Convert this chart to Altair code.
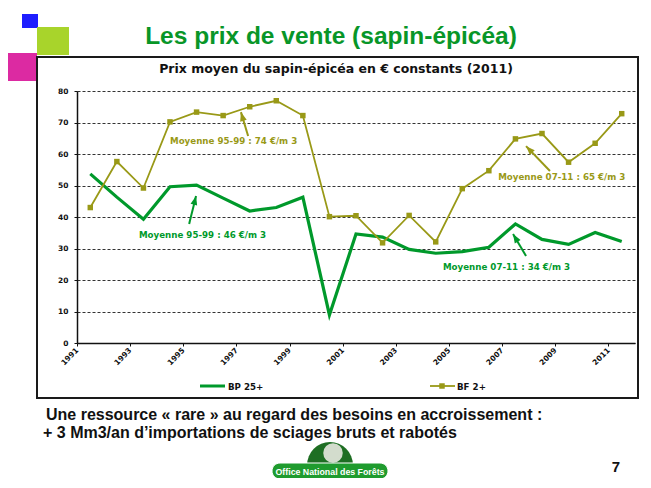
import altair as alt
import pandas as pd

# ---------------- data ----------------
years = list(range(1991, 2012))
bp25 = [53.7, 46.3, 39.3, 49.6, 50.1, 46.0, 41.9, 43.0, 46.3, 8.9, 34.6,
        33.6, 29.7, 28.5, 29.0, 30.4, 37.8, 32.9, 31.3, 35.1, 32.2]
bf2 = [43.0, 57.6, 49.2, 70.2, 73.3, 72.2, 75.0, 76.9, 72.2, 40.1, 40.4,
       31.8, 40.5, 32.1, 49.0, 54.7, 64.8, 66.5, 57.4, 63.4, 72.8]
series_names = ["BP 25+", "BF 2+"]
x_tick_years = list(range(1991, 2012, 2))
y_ticks = [0, 10, 20, 30, 40, 50, 60, 70, 80]

ann_text = ["Moyenne 95-99 : 74 €/m 3", "Moyenne 95-99 : 46 €/m 3",
            "Moyenne 07-11 : 65 €/m 3", "Moyenne 07-11 : 34 €/m 3"]
ann_series = ["BF 2+", "BP 25+", "BF 2+", "BP 25+"]
ann_x = [1994.5, 1993.33, 2006.85, 2004.77]
ann_y = [64.1, 34.2, 52.7, 24.1]
arr_x1 = [1997.44, 1995.22, 2008.8, 2007.9]
arr_y1 = [65.7, 37.8, 54.6, 27.6]
arr_x2 = [1997.17, 1995.48, 2007.9, 2007.41]
arr_y2 = [73.3, 46.7, 62.5, 34.6]
arr_angle = [344, 14, 316, 329]

GREEN = "#00992B"
OLIVE = "#999917"
TITLE_GREEN = "#089628"
DV = "DejaVu Sans"
LS = "Liberation Sans, Arial, sans-serif"

df = pd.DataFrame({"year": years, "bp": bp25, "bf": bf2})
ann = pd.DataFrame({"text": ann_text, "series": ann_series, "x": ann_x, "y": ann_y})
arr = pd.DataFrame({"series": ann_series, "x1": arr_x1, "y1": arr_y1,
                    "x2": arr_x2, "y2": arr_y2, "angle": arr_angle})

# ---------------- scales / axes ----------------
OX, OY = 77, 91  # page position of plot origin


def px(v):
    return v - OX


def py(v):
    return v - OY


xscale = alt.Scale(domain=[1991, 2012], nice=False, zero=False)
yscale = alt.Scale(domain=[0, 80], nice=False, zero=True)
cscale = alt.Scale(domain=series_names, range=[GREEN, OLIVE])

xaxis = alt.Axis(values=x_tick_years, format="d", title=None, labelAngle=-45,
                 labelAlign="right", labelBaseline="middle", labelPadding=3,
                 labelFont=DV, labelFontWeight="bold", labelFontSize=7.5,
                 labelColor="#111", tickSize=3, tickColor="#111",
                 domainColor="#111", domainWidth=1.5, grid=False)
yaxis = alt.Axis(values=y_ticks, title=None, labelFont=DV, labelFontWeight="bold",
                 labelFontSize=7.5, labelColor="#111", labelPadding=6,
                 tickSize=3, tickColor="#111", domainColor="#111", domainWidth=1.5,
                 grid=True, gridColor="#333", gridDash=[3, 2], gridWidth=1)

base = alt.Chart(df).transform_calculate(xpos="datum.year + 0.5")

bp_line = base.mark_line(color=GREEN, strokeWidth=3.2).encode(
    x=alt.X("xpos:Q", scale=xscale, axis=xaxis),
    y=alt.Y("bp:Q", scale=yscale, axis=yaxis),
)
bf_line = base.mark_line(color=OLIVE, strokeWidth=1.8).encode(
    x=alt.X("xpos:Q", scale=xscale, axis=xaxis),
    y=alt.Y("bf:Q", scale=yscale, axis=yaxis),
)
bf_pts = base.mark_point(shape="square", filled=True, size=30, color=OLIVE, opacity=1).encode(
    x=alt.X("xpos:Q", scale=xscale, axis=xaxis),
    y=alt.Y("bf:Q", scale=yscale, axis=yaxis),
)

ann_layer = alt.Chart(ann).mark_text(font=DV, fontWeight="bold", fontSize=8.7,
                                     align="left", baseline="middle").encode(
    x=alt.X("x:Q", scale=xscale, axis=xaxis),
    y=alt.Y("y:Q", scale=yscale, axis=yaxis),
    text="text:N",
    color=alt.Color("series:N", scale=cscale, legend=None),
)
arr_lines = alt.Chart(arr).mark_rule(strokeWidth=2).encode(
    x=alt.X("x1:Q", scale=xscale, axis=xaxis),
    y=alt.Y("y1:Q", scale=yscale, axis=yaxis),
    x2="x2:Q", y2="y2:Q",
    color=alt.Color("series:N", scale=cscale, legend=None),
)
arr_heads = alt.Chart(arr).mark_point(shape="M0,0L-0.45,1.2L0.45,1.2Z", filled=True,
                                      size=225, opacity=1).encode(
    x=alt.X("x2:Q", scale=xscale, axis=xaxis),
    y=alt.Y("y2:Q", scale=yscale, axis=yaxis),
    angle=alt.Angle("angle:Q", scale=None),
    color=alt.Color("series:N", scale=cscale, legend=None),
)


# ---------------- slide decorations ----------------
def dec():
    return alt.Chart(alt.Data(values=[{"k": 1}]))


def rect(x1, y1, x2, y2, **kw):
    return dec().mark_rect(**kw).encode(x=alt.value(px(x1)), x2=alt.value(px(x2)),
                                        y=alt.value(py(y1)), y2=alt.value(py(y2)))


def text(t, x, y, **kw):
    return dec().mark_text(text=t, **kw).encode(x=alt.value(px(x)), y=alt.value(py(y)))


blue = rect(22, 14, 38, 28, color="#1E1EFF")
lime = rect(37, 27, 69, 55, color="#A8D42B")
magenta = rect(7, 53, 37, 81, color="#DC2AA2")
box = rect(37, 57, 638, 398, fillOpacity=0, stroke="#1a1a1a", strokeWidth=2)

title = text("Les prix de vente (sapin-épicéa)", 331, 44,
             font="Liberation Sans Narrow, Arial Narrow, Liberation Sans, sans-serif",
             fontSize=24.5, fontWeight="bold", color=TITLE_GREEN, align="center",
             baseline="alphabetic")
ctitle = text("Prix moyen du sapin-épicéa en € constants (2011)", 336, 73,
              font=DV, fontSize=12.5, fontWeight="bold", color="#111",
              align="center", baseline="alphabetic")

leg_bp = dec().mark_rule(color=GREEN, strokeWidth=3).encode(
    x=alt.value(px(200)), x2=alt.value(px(225)), y=alt.value(py(386)))
leg_bf = dec().mark_rule(color=OLIVE, strokeWidth=1.8).encode(
    x=alt.value(px(430)), x2=alt.value(px(455)), y=alt.value(py(386)))
leg_bf_pt = dec().mark_point(shape="square", filled=True, size=30, color=OLIVE, opacity=1).encode(
    x=alt.value(px(442)), y=alt.value(py(386)))
leg_bp_t = text(series_names[0], 228, 387, font=DV, fontSize=8.7, fontWeight="bold",
                color="#111", align="left", baseline="middle")
leg_bf_t = text(series_names[1], 457, 387, font=DV, fontSize=8.7, fontWeight="bold",
                color="#111", align="left", baseline="middle")

line1 = text("Une ressource « rare » au regard des besoins en accroissement :", 46, 420,
             font=LS, fontSize=16, fontWeight="bold",
             color="#111", align="left", baseline="alphabetic")
line2 = text("+ 3 Mm3/an d’importations de sciages bruts et rabotés", 43, 438,
             font=LS, fontSize=16, fontWeight="bold",
             color="#111", align="left", baseline="alphabetic")

logo_blob = dec().mark_point(shape="circle", filled=True, size=2100, color="#1E6E23", opacity=1).encode(
    x=alt.value(px(330)), y=alt.value(py(465)))
logo_crown = dec().mark_point(shape="circle", filled=True, size=380, color="#D3DCCD", opacity=1).encode(
    x=alt.value(px(333)), y=alt.value(py(453)))
logo_pill = rect(272, 463, 388, 479, fill="#1F9B2E", stroke="white", strokeWidth=1, cornerRadius=8)
logo_text = text("Office National des Forêts", 330, 471.5,
                 font="Liberation Sans Narrow, Arial Narrow, Liberation Sans, sans-serif",
                 fontSize=8.8, fontWeight="bold", color="white", align="center",
                 baseline="middle")
page_no = text("7", 616, 472, font=LS, fontSize=15,
               fontWeight="bold", color="#111", align="center", baseline="alphabetic")

chart = alt.layer(
    blue, lime, magenta, box, title, ctitle,
    bp_line, bf_line, bf_pts, arr_lines, arr_heads, ann_layer,
    leg_bp, leg_bf, leg_bf_pt, leg_bp_t, leg_bf_t,
    line1, line2, logo_blob, logo_crown, logo_pill, logo_text, page_no,
).properties(
    width=558, height=252,
    autosize=alt.AutoSizeParams(type="none"),
    padding={"left": 69, "top": 83, "right": 8, "bottom": 135},
    background="white",
).configure_view(stroke=None)

chart.save("out.html", embed_options={"renderer": "svg", "actions": False})
